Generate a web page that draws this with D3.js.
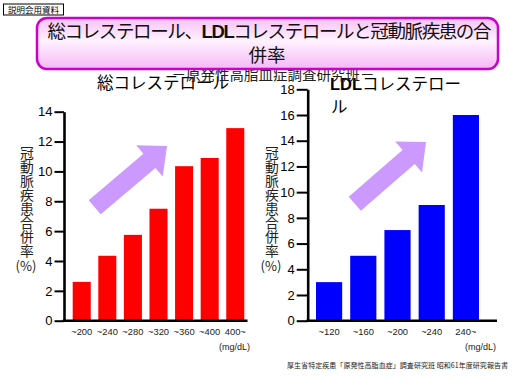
<!DOCTYPE html>
<html>
<head>
<meta charset="utf-8">
<script src="https://cdn.jsdelivr.net/npm/d3@7"></script>
<style>
  body { margin: 0; background: #fff; }
  svg { display: block; }
</style>
</head>
<body>
<div id="chart"></div>
<script>
const width = 512, height = 384;
const jp = "'Noto Sans CJK JP', 'Noto Sans', sans-serif";
const latin = "'Liberation Sans', Arial, sans-serif";

// data
const totalCats = ["~200", "~240", "~280", "~320", "~360", "~400", "400~"];
const totalRates = [2.6, 4.35, 5.75, 7.5, 10.35, 10.9, 12.9];
const ldlCats = ["~120", "~160", "~200", "~240", "240~"];
const ldlRates = [3.0, 5.05, 7.05, 9.0, 16.0];
const totalTicks = [0, 2, 4, 6, 8, 10, 12, 14];
const ldlTicks = [0, 2, 4, 6, 8, 10, 12, 14, 16, 18];
const yTitle = "冠動脈疾患合併率";

const svg = d3.select("#chart").append("svg")
    .attr("width", width)
    .attr("height", height);

// one panel: bars + axes + arrow
function addPanel(opt) {
  const x = d3.scaleBand()
      .domain(opt.cats)
      .range(opt.barRange)
      .paddingInner(opt.pad)
      .paddingOuter(0);
  const y = d3.scaleLinear()
      .domain([0, opt.max])
      .range([320.7, opt.top]);

  const g = svg.append("g");

  // y title, written top to bottom
  g.append("text")
    .attr("x", opt.titleX)
    .attr("y", 146)
    .style("writing-mode", "vertical-rl")
    .style("text-orientation", "upright")
    .style("letter-spacing", "0.2px")
    .style("font-family", jp)
    .style("font-size", "13.8px")
    .style("fill", "#222")
    .text(yTitle);
  g.append("text")
    .attr("x", opt.titleX - 1)
    .attr("y", 271)
    .attr("text-anchor", "middle")
    .style("font-family", jp)
    .style("font-size", "13px")
    .style("fill", "#222")
    .text("(%)");

  g.append("g")
    .selectAll("rect")
    .data(opt.values)
    .enter()
    .append("rect")
      .attr("x", (d, i) => x(opt.cats[i]))
      .attr("y", d => y(d))
      .attr("width", x.bandwidth())
      .attr("height", d => y(0) - y(d))
      .attr("fill", opt.color);

  const yAxis = d3.axisLeft(y)
      .tickValues(opt.ticks)
      .tickSizeInner(opt.tick)
      .tickSizeOuter(0)
      .tickPadding(2);
  const ya = g.append("g")
      .attr("transform", `translate(${opt.axisX}, 0)`)
      .call(yAxis);
  ya.select(".domain").attr("stroke", "#000").attr("stroke-width", 2.6);
  ya.selectAll(".tick line").attr("stroke", "#000").attr("stroke-width", 2);
  ya.selectAll(".tick text")
      .style("font-family", latin)
      .style("font-size", "13px")
      .attr("fill", "#000");

  // x axis line
  g.append("line")
    .attr("x1", opt.axisX - 1.3).attr("x2", opt.axisEnd)
    .attr("y1", y(0)).attr("y2", y(0))
    .attr("stroke", "#000")
    .attr("stroke-width", 2.6);

  const xAxis = d3.axisBottom(x).tickSize(0).tickPadding(8);
  const xa = g.append("g")
      .attr("transform", `translate(0, ${y(0)})`)
      .call(xAxis);
  xa.select(".domain").remove();
  xa.selectAll(".tick text")
      .style("font-family", latin)
      .style("font-size", "9.4px")
      .attr("fill", "#222");

  g.append("text")
    .attr("x", opt.unitX)
    .attr("y", 350)
    .attr("text-anchor", "end")
    .style("font-family", latin)
    .style("font-size", "9px")
    .style("fill", "#222")
    .text("(mg/dL)");

  // decorative rising arrow
  const x0 = opt.arrow[0], y0 = y(opt.arrow[1]), x1 = opt.arrow[2], y1 = y(opt.arrow[3]);
  const L = Math.hypot(x1 - x0, y1 - y0);
  const ang = Math.atan2(y1 - y0, x1 - x0) * 180 / Math.PI;
  const sw = 9.3, hw = 20.5, hl = 23;
  const pts = [[0, -sw], [L - hl, -sw], [L - hl, -hw], [L, 0], [L - hl, hw], [L - hl, sw], [0, sw]];
  g.append("path")
    .attr("d", d3.line()(pts) + "Z")
    .attr("transform", `translate(${x0},${y0}) rotate(${ang})`)
    .attr("fill", "#cc99ff");

  return g;
}

addPanel({
  cats: totalCats, values: totalRates, ticks: totalTicks, max: 14, top: 111.7,
  barRange: [72.7, 244.3], pad: 0.295, axisX: 64, axisEnd: 247.5, tick: 9.5,
  color: "#ff0000", titleX: 27, unitX: 250, arrow: [94.7, 7.6, 167, 11.7]
});
addPanel({
  cats: ldlCats, values: ldlRates, ticks: ldlTicks, max: 18, top: 89.3,
  barRange: [316, 479], pad: 0.235, axisX: 307.7, axisEnd: 497, tick: 11,
  color: "#0000ff", titleX: 272, unitX: 496, arrow: [354.8, 9.1, 426, 13.9]
});

// panel titles
svg.append("text")
  .attr("x", 163).attr("y", 89)
  .attr("text-anchor", "middle")
  .style("font-family", jp)
  .style("font-size", "16.5px")
  .style("fill", "#000")
  .text("総コレステロール");

const rt = svg.append("text")
  .attr("x", 330).attr("y", 90)
  .style("font-family", jp)
  .style("font-size", "16.5px")
  .style("fill", "#000");
rt.append("tspan").style("font-family", latin).style("font-weight", "bold").text("LDL");
rt.append("tspan").text("コレステロー");
svg.append("text")
  .attr("x", 331).attr("y", 113)
  .style("font-family", jp)
  .style("font-size", "16.5px")
  .text("ル");

// subtitle (partly hidden by the title box)
svg.append("text")
  .attr("x", 273).attr("y", 80)
  .attr("text-anchor", "middle")
  .style("font-family", jp)
  .style("font-size", "14.5px")
  .style("fill", "#222")
  .text("－原発性高脂血症調査研究班－");

// title box
const grad = svg.append("defs").append("linearGradient")
    .attr("id", "title-gradient")
    .attr("x1", 0).attr("y1", 0).attr("x2", 0).attr("y2", 1);
grad.selectAll("stop")
  .data([
    {offset: "0%", color: "#f7c0f7"},
    {offset: "45%", color: "#fff2ff"},
    {offset: "100%", color: "#f5b8f5"}
  ])
  .enter().append("stop")
    .attr("offset", d => d.offset)
    .attr("stop-color", d => d.color);

svg.append("rect")
  .attr("x", 37).attr("y", 18)
  .attr("width", 461).attr("height", 51)
  .attr("rx", 10).attr("ry", 10)
  .attr("fill", "url(#title-gradient)")
  .attr("stroke", "#cc00cc")
  .attr("stroke-width", 2.5);

const t1 = svg.append("text")
  .attr("x", 269.5).attr("y", 38)
  .attr("text-anchor", "middle")
  .attr("textLength", 444)
  .style("font-family", jp)
  .style("font-size", "18.5px")
  .style("fill", "#111");
t1.append("tspan").text("総コレステロール、");
t1.append("tspan").style("font-family", latin).style("font-weight", "bold").text("LDL");
t1.append("tspan").text("コレステロールと冠動脈疾患の合");

svg.append("text")
  .attr("x", 267).attr("y", 62)
  .attr("text-anchor", "middle")
  .style("font-family", jp)
  .style("font-size", "18.5px")
  .style("fill", "#111")
  .text("併率");

// small label top-left
svg.append("rect")
  .attr("x", 3.5).attr("y", 4)
  .attr("width", 60).attr("height", 11)
  .attr("fill", "#fff")
  .attr("stroke", "#000")
  .attr("stroke-width", 1);
svg.append("text")
  .attr("x", 33.5).attr("y", 13)
  .attr("text-anchor", "middle")
  .style("font-family", jp)
  .style("font-size", "8.5px")
  .text("説明会用資料");

// source note
svg.append("text")
  .attr("x", 287).attr("y", 368)
  .attr("textLength", 221)
  .style("font-family", jp)
  .style("font-size", "7px")
  .style("fill", "#222")
  .text("厚生省特定疾患「原発性高脂血症」調査研究班 昭和61年度研究報告書");
</script>
</body>
</html>
